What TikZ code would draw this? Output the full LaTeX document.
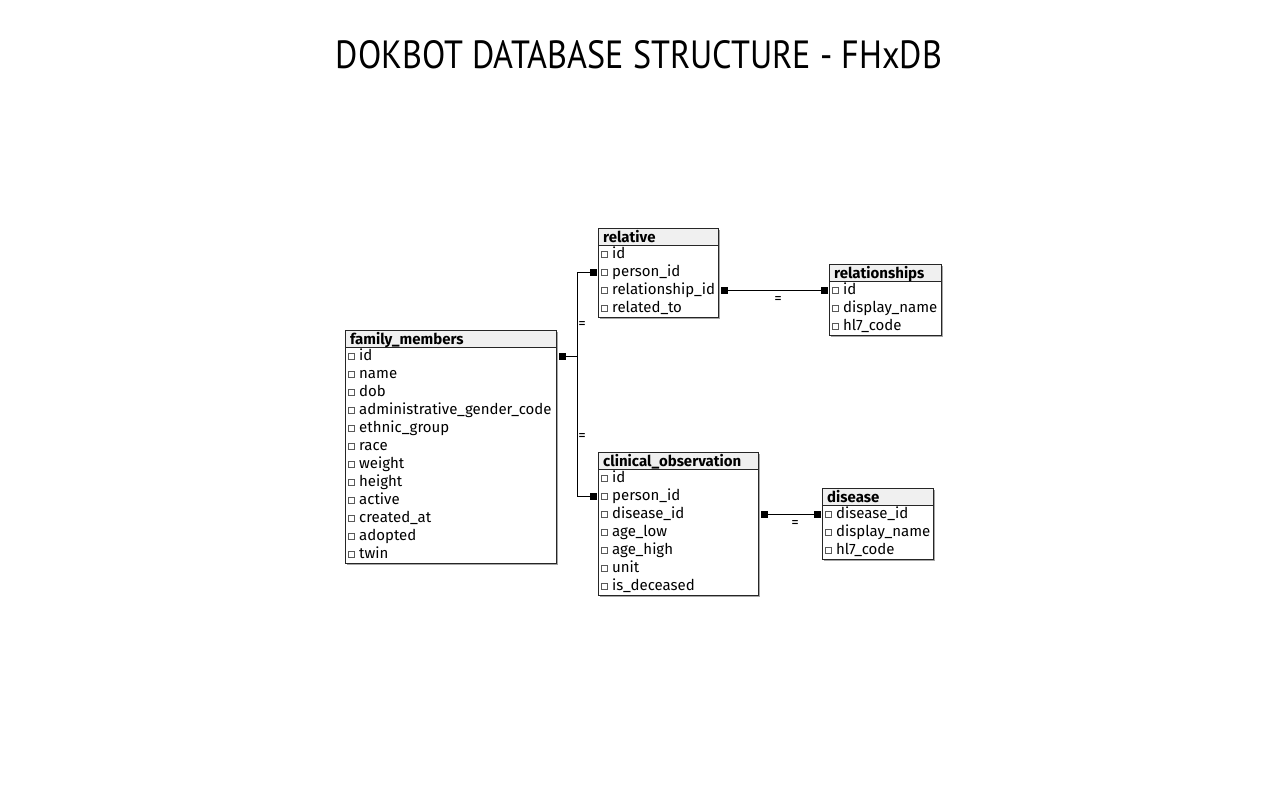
\documentclass[tikz,border=0pt]{standalone}
\usepackage{graphicx}
\usepackage{fontspec}
\setmainfont{Fira Sans}
\newfontfamily\titlefont{PT Sans}
\usetikzlibrary{calc}
\tikzset{
  tline/.style={draw=black!85, line width=0.9pt},
  tbox/.style={fill=white, inner sep=0pt, anchor=north west},
  hdrfill/.style={fill=black!6},
  tshadow/.style={fill=black!35},
  hdrtext/.style={font=\bfseries\fontsize{15}{17}\selectfont, anchor=base west, inner sep=0pt},
  rowtext/.style={font=\fontsize{15}{17}\selectfont, anchor=west, inner xsep=0pt, inner ysep=0pt, text height=10.5pt, text depth=1.5pt},
  cbox/.style={draw=black!65, line width=0.6pt, fill=white},
  keysq/.style={fill=black, minimum size=7pt, inner sep=0pt},
  conn/.style={draw=black, line width=0.9pt},
  eqlab/.style={font=\fontsize{15}{17}\selectfont, inner sep=0pt}
}
\newcommand{\dbtab}[7]{%
  \pgfmathsetmacro{\tabh}{17+18*#5}
  \fill[tshadow] (#2+2,#3+2) rectangle (#2+#4+2,#3+\tabh+2);
  \node[tbox, minimum width=#4pt, minimum height=\tabh pt] (#1) at (#2,#3) {};
  \fill[hdrfill] (#2,#3) rectangle (#2+#4,#3+17);
  \draw[tline] (#2,#3+17) -- (#2+#4,#3+17);
  \draw[tline] (#1.north west) rectangle (#1.south east);
  \node[hdrtext] (#1-title) at (#2+5,#3+14) {#6};
  \foreach \r [count=\i] in {#7} {
    \pgfmathsetmacro{\cy}{#3+17+18*\i-9}
    \draw[cbox] (#2+3.5,\cy-3) rectangle (#2+9.5,\cy+3);
    \node[rowtext] (#1-\i) at (#2+14,\cy) {\expandafter\detokenize\expandafter{\r}};
  }
}
\begin{document}
\begin{tikzpicture}[x=1pt,y=-1pt]
\useasboundingbox[fill=white] (0,0) rectangle (1280,800);
\node[anchor=base, inner sep=0pt] (title) at (639,68) {\resizebox{606pt}{28pt}{\titlefont DOKBOT DATABASE STRUCTURE - FHxDB}};

\dbtab{rel}{598}{228}{120}{4}{relative}{id,person_id,relationship_id,related_to}
\dbtab{rsh}{829}{264}{112}{3}{relationships}{id,display_name,hl7_code}
\dbtab{fm}{345}{330}{211}{12}{family\_members}{id,name,dob,administrative_gender_code,ethnic_group,race,weight,height,active,created_at,adopted,twin}
\dbtab{co}{598}{452}{160}{7}{clinical\_observation}{id,person_id,disease_id,age_low,age_high,unit,is_deceased}
\dbtab{dis}{822}{488}{111}{3}{disease}{disease_id,display_name,hl7_code}

\node[keysq, anchor=west] (k1) at ($(fm.east |- fm-1)+(2,0)$) {};
\node[keysq, anchor=east] (k2) at ($(rel.west |- rel-2)+(-1,0)$) {};
\node[keysq, anchor=east] (k3) at ($(co.west |- co-2)+(-1,0)$) {};
\node[keysq, anchor=west] (k4) at ($(rel.east |- rel-3)+(2,0)$) {};
\node[keysq, anchor=east] (k5) at ($(rsh.west |- rsh-1)+(-1,0)$) {};
\node[keysq, anchor=west] (k6) at ($(co.east |- co-3)+(2,0)$) {};
\node[keysq, anchor=east] (k7) at ($(dis.west |- dis-1)+(-1,0)$) {};

\draw[conn] (k1.east) -- ++(12,0) coordinate (j1) |- (k2.west);
\draw[conn] (j1) |- (k3.west);
\draw[conn] (k4.east) -- (k5.west);
\draw[conn] (k6.east) -- (k7.west);

\node[eqlab] (e1) at (582,325) {=};
\node[eqlab] (e2) at (582,437) {=};
\node[eqlab] (e3) at (778,300) {=};
\node[eqlab] (e4) at (795,524) {=};
\end{tikzpicture}
\end{document}
